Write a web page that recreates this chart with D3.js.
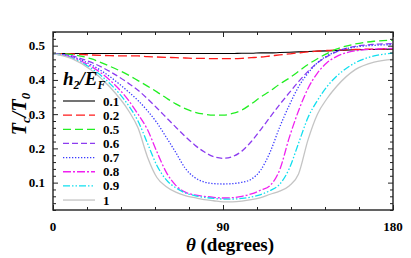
<!DOCTYPE html>
<html><head><meta charset="utf-8">
<script src="https://cdn.jsdelivr.net/npm/d3@7"></script>
</head><body style="margin:0">
<svg id="c" width="411" height="258"></svg>
<script>
const theta = [0,10,20,30,40,45,50,55,60,65,70,75,80,85,90,95,100,105,110,115,120,125,130,135,140,145,150,160,170,180];
const labels = ["0.1","0.2","0.5","0.6","0.7","0.8","0.9","1"];
const s01 = [0.477,0.477,0.477,0.477,0.477,0.477,0.477,0.477,0.477,0.477,0.477,0.477,0.477,0.477,0.477,0.477,0.478,0.478,0.479,0.479,0.480,0.481,0.482,0.483,0.484,0.485,0.486,0.488,0.489,0.490];
const s02 = [0.477,0.476,0.473,0.471,0.470,0.470,0.468,0.467,0.466,0.465,0.464,0.463,0.463,0.462,0.462,0.462,0.463,0.465,0.467,0.470,0.473,0.476,0.479,0.482,0.484,0.486,0.487,0.489,0.490,0.491];
const s05 = [0.477,0.474,0.462,0.440,0.414,0.398,0.382,0.365,0.347,0.330,0.316,0.306,0.300,0.297,0.297,0.302,0.312,0.330,0.350,0.368,0.388,0.405,0.425,0.445,0.462,0.477,0.490,0.505,0.513,0.516];
const s06 = [0.477,0.470,0.452,0.425,0.390,0.370,0.345,0.318,0.290,0.262,0.235,0.210,0.190,0.176,0.171,0.176,0.192,0.220,0.255,0.292,0.328,0.362,0.395,0.425,0.450,0.468,0.482,0.498,0.504,0.506];
const s07 = [0.477,0.468,0.445,0.410,0.365,0.340,0.310,0.275,0.232,0.188,0.142,0.115,0.102,0.097,0.096,0.097,0.101,0.110,0.137,0.190,0.262,0.325,0.380,0.420,0.450,0.470,0.483,0.496,0.501,0.503];
const s08 = [0.477,0.466,0.440,0.400,0.340,0.300,0.255,0.190,0.130,0.092,0.072,0.064,0.060,0.057,0.055,0.056,0.060,0.067,0.078,0.092,0.137,0.230,0.310,0.375,0.420,0.450,0.468,0.485,0.490,0.492];
const s09 = [0.477,0.464,0.435,0.390,0.325,0.280,0.215,0.150,0.108,0.085,0.070,0.062,0.057,0.054,0.052,0.052,0.054,0.058,0.065,0.077,0.095,0.140,0.215,0.290,0.340,0.380,0.410,0.450,0.470,0.478];
const s10 = [0.477,0.462,0.430,0.380,0.310,0.260,0.175,0.115,0.088,0.072,0.062,0.056,0.050,0.047,0.044,0.044,0.046,0.050,0.056,0.066,0.075,0.090,0.125,0.225,0.300,0.345,0.380,0.430,0.452,0.460];
const xTickLabels = [0,90,180];
const yTickLabels = [0.1,0.2,0.3,0.4,0.5];

const seriesVals = [s01,s02,s05,s06,s07,s08,s09,s10];
const styles = [
  {c:"#000000", d:null, w:1.1},
  {c:"#ff1a1a", d:"9,4", w:1.3},
  {c:"#22ee22", d:"8,4", w:1.3},
  {c:"#8d3cf0", d:"6,3", w:1.3},
  {c:"#3a3aff", d:"1.3,1.7", w:1.3},
  {c:"#f020f0", d:"8,2,2,2", w:1.3},
  {c:"#10dfef", d:"7,2,1.5,2,1.5,2", w:1.3},
  {c:"#c4c4c4", d:null, w:1.3}
];

const svg = d3.select("#c");
const L=53, R=393, T=32, B=210;
const x = d3.scaleLinear().domain([0,180]).range([L,R]);
const y = d3.scaleLinear().domain([0.02,0.54]).range([B,T]);

const g = svg.append("g");
const line = d3.line().x(d=>x(d[0])).y(d=>y(d[1])).curve(d3.curveMonotoneX);
seriesVals.forEach((vals,i)=>{
  const st = styles[i];
  g.append("path").datum(theta.map((t,j)=>[t,vals[j]]))
   .attr("d",line).attr("fill","none").attr("stroke",st.c)
   .attr("stroke-width",st.w).attr("stroke-dasharray",st.d);
});

const xMinor = d3.range(0,181,18);
const yMinor = d3.range(0.02,0.541,0.02);
function axisX(pos){
  const a = (pos==="b"? d3.axisBottom(x):d3.axisTop(x)).tickValues(xMinor)
    .tickSizeInner(-3).tickSizeOuter(0).tickFormat("");
  const ga = svg.append("g").attr("transform",`translate(0,${pos==="b"?B:T})`).call(a);
  ga.selectAll(".tick line").attr("y2", d=> (xTickLabels.includes(d)?5:3)*(pos==="b"?-1:1)).attr("stroke","#222");
  ga.select(".domain").remove();
  ga.selectAll(".tick text").remove();
}
function axisY(pos){
  const a = (pos==="l"? d3.axisLeft(y):d3.axisRight(y)).tickValues(yMinor)
    .tickSizeInner(-3).tickSizeOuter(0).tickFormat("");
  const ga = svg.append("g").attr("transform",`translate(${pos==="l"?L:R},0)`).call(a);
  ga.selectAll(".tick line").attr("x2", d=> (yTickLabels.some(v=>Math.abs(v-d)<1e-6)?5:3)*(pos==="l"?1:-1)).attr("stroke","#222");
  ga.select(".domain").remove();
  ga.selectAll(".tick text").remove();
}
axisX("b"); axisX("t"); axisY("l"); axisY("r");
svg.append("rect").attr("x",L).attr("y",T).attr("width",R-L).attr("height",B-T)
  .attr("fill","none").attr("stroke","#222").attr("stroke-width",1.4);

const FF = '"Liberation Serif"';
function txt(sel){ return sel.style("font-family",FF).attr("font-weight","bold"); }

txt(svg.selectAll(".xl").data(xTickLabels).enter().append("text"))
  .attr("x",d=>x(d)).attr("y",231).attr("text-anchor","middle")
  .attr("font-size",13).text(d=>d);
txt(svg.selectAll(".yl").data(yTickLabels).enter().append("text"))
  .attr("x",45).attr("y",d=>y(d)+4.5).attr("text-anchor","end")
  .attr("font-size",13).text(d=>d.toFixed(1));

const xt = txt(svg.append("text")).attr("x",230).attr("y",251).attr("text-anchor","middle")
  .attr("font-size",19);
xt.append("tspan").attr("font-style","italic").text("θ");
xt.append("tspan").text(" (degrees)");

const yt = txt(svg.append("text")).attr("transform","translate(26,114) rotate(-90)").attr("text-anchor","middle")
  .attr("font-style","italic").attr("font-size",20);
yt.append("tspan").text("T");
yt.append("tspan").attr("font-size",13).attr("dy",4).text("c");
yt.append("tspan").attr("dy",-4).text("/T");
yt.append("tspan").attr("font-size",13).attr("dy",4).text("0");

const lt = txt(svg.append("text")).attr("x",63).attr("y",85)
  .attr("font-style","italic").attr("font-size",19);
lt.append("tspan").text("h");
lt.append("tspan").attr("font-size",12).attr("dy",4).text("2");
lt.append("tspan").attr("dy",-4).text("/E");
lt.append("tspan").attr("font-size",12).attr("dy",4).text("F");

const leg = svg.append("g");
labels.forEach((lab,i)=>{
  const yy = 101 + i*14.15;
  const st = styles[i];
  leg.append("line").attr("x1",63).attr("x2",95).attr("y1",yy).attr("y2",yy)
    .attr("stroke",st.c).attr("stroke-width",st.w).attr("stroke-dasharray",st.d);
  txt(leg.append("text")).attr("x",103).attr("y",yy+4.5).attr("font-size",13).text(lab);
});
</script>
</body></html>
